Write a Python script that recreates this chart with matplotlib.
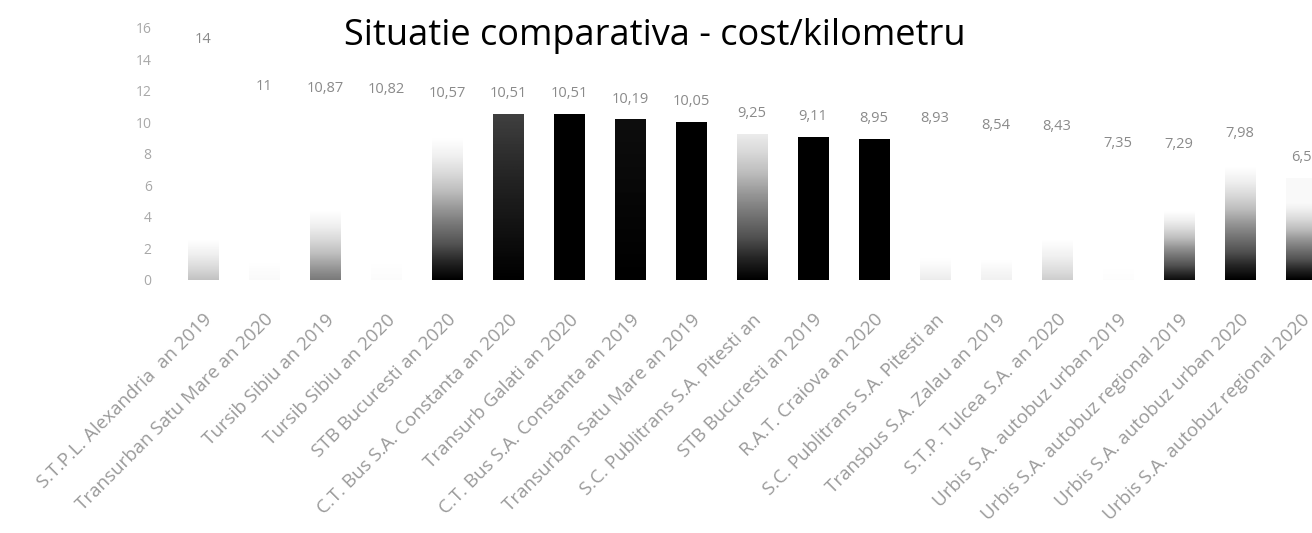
import numpy as np
import matplotlib
matplotlib.use("Agg")
import matplotlib.pyplot as plt

plt.rcParams['font.family'] = ['Open Sans', 'DejaVu Sans']

categories = [
    "S.T.P.L. Alexandria  an 2019",
    "Transurban Satu Mare an 2020",
    "Tursib Sibiu an 2019",
    "Tursib Sibiu an 2020",
    "STB Bucuresti an 2020",
    "C.T. Bus S.A. Constanta an 2020",
    "Transurb Galati an 2020",
    "C.T. Bus S.A. Constanta an 2019",
    "Transurban Satu Mare an 2019",
    "S.C. Publitrans S.A. Pitesti an",
    "STB Bucuresti an 2019",
    "R.A.T. Craiova an 2020",
    "S.C. Publitrans S.A. Pitesti an",
    "Transbus S.A. Zalau an 2019",
    "S.T.P. Tulcea S.A. an 2020",
    "Urbis S.A. autobuz urban 2019",
    "Urbis S.A. autobuz regional 2019",
    "Urbis S.A. autobuz urban 2020",
    "Urbis S.A. autobuz regional 2020",
]
values = [14, 11, 10.87, 10.82, 10.57, 10.51, 10.51, 10.19, 10.05, 9.25,
          9.11, 8.95, 8.93, 8.54, 8.43, 7.35, 7.29, 7.98, 6.5]
labels = ["14", "11", "10,87", "10,82", "10,57", "10,51", "10,51", "10,19", "10,05", "9,25",
          "9,11", "8,95", "8,93", "8,54", "8,43", "7,35", "7,29", "7,98", "6,5"]

# faded scan look: darkness at base, darkness at top, and fraction of height the fade takes
shade_bottom = [0.35, 0.05, 0.6, 0.03, 1.0, 1.0, 1.0, 1.0, 1.0, 1.0,
                1.0, 1.0, 0.15, 0.12, 0.3, 0.02, 0.95, 1.0, 1.0]
shade_top = [0.0, 0.0, 0.0, 0.0, 0.0, 0.8, 1.0, 0.95, 1.0, 0.15,
             1.0, 1.0, 0.0, 0.0, 0.0, 0.0, 0.0, 0.0, 0.05]
fade = [0.18, 0.1, 0.4, 0.1, 0.85, 1.0, 1.0, 1.0, 1.0, 1.0,
        1.0, 1.0, 0.15, 0.15, 0.3, 0.1, 0.6, 0.9, 0.75]

fig = plt.figure(figsize=(13.12, 5.33), dpi=100)
ax = fig.add_axes([0.1315, 0.4747, 0.8685, 0.4728])

x = np.arange(len(values))
bars = ax.bar(x, values, width=0.5, facecolor='none', edgecolor='none')

for b, s0, s1, f in zip(bars, shade_bottom, shade_top, fade):
    t = np.linspace(0, 1, 200)
    grad = (s1 + (s0 - s1) * np.clip(1 - t / f, 0, 1)).reshape(-1, 1)
    x0, y0 = b.get_x(), b.get_y()
    im = ax.imshow(grad, cmap='Greys', vmin=0, vmax=1, origin='lower', aspect='auto',
                   extent=[x0, x0 + b.get_width(), y0, y0 + b.get_height()],
                   interpolation='bilinear', zorder=2)
    im.set_clip_path(b)

for xi, v, lab in zip(x, values, labels):
    ax.text(xi, v + 1.3, lab, ha='center', va='center', fontsize=10.5, color='#8a8a8a')

ax.set_xlim(-0.5, 18.18)
ax.set_ylim(0, 16)
ax.set_yticks(np.arange(0, 17, 2))
ax.set_xticks(x)
ax.set_xticklabels(categories, rotation=45, ha='right', rotation_mode='anchor',
                   fontsize=13.5, color='#9a9a9a')
ax.tick_params(axis='both', length=0)
ax.tick_params(axis='x', pad=22)
ax.tick_params(axis='y', labelsize=10, labelcolor='#a8a8a8', pad=15)
for sp in ax.spines.values():
    sp.set_visible(False)
ax.set_facecolor('none')

fig.text(0.499, 0.932, "Situatie comparativa - cost/kilometru", ha='center', va='center',
         fontsize=26, color='black')

fig.savefig("out.png", dpi=100)
